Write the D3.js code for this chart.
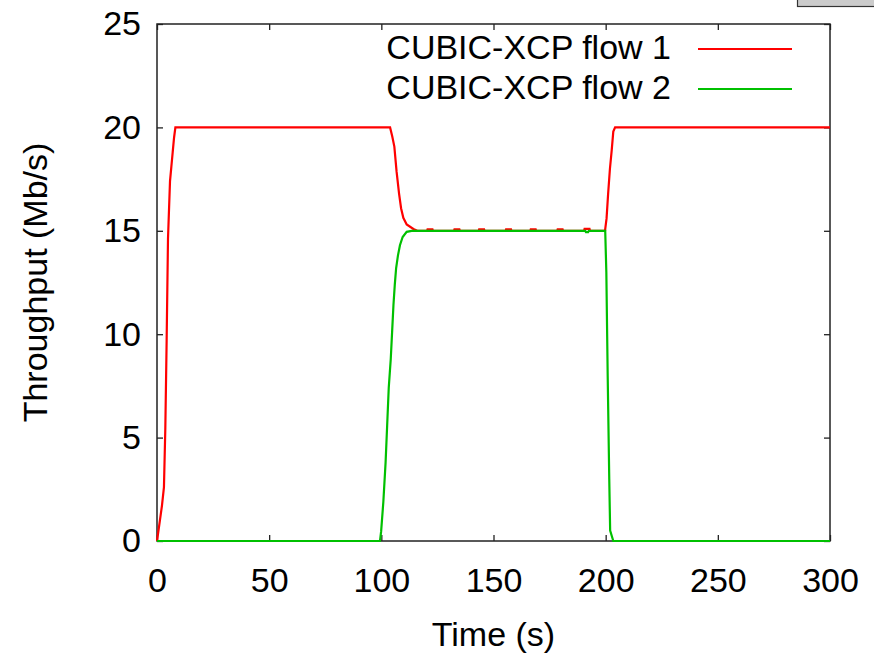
<!DOCTYPE html>
<html>
<head>
<meta charset="utf-8">
<script src="https://cdn.jsdelivr.net/npm/d3@7"></script>
<style>
  html, body { margin: 0; padding: 0; background: #fff; }
  svg { display: block; }
  text { font-family: "Liberation Sans", Arial, Helvetica, sans-serif; fill: #000; }
</style>
</head>
<body>
<svg id="chart" width="874" height="658"></svg>
<script>
// ---- data ----
const seriesNames = ["CUBIC-XCP flow 1", "CUBIC-XCP flow 2"];
const seriesColors = ["#ff0000", "#00c000"];

const flow1Time = [0, 1.3, 2.2, 3.1, 3.7, 4.3, 4.9, 5.8, 6.4, 7.0, 7.6, 8.2,
  103.9, 104.9, 105.8, 106.8, 107.9, 108.8, 109.8, 111.3, 114.3, 116,
  120.4, 120.6, 122.8, 123.0, 132.4, 132.6, 134.8, 135.0,
  143.4, 143.6, 145.8, 146.0, 155.4, 155.6, 157.8, 158.0,
  166.4, 166.6, 168.8, 169.0, 178.4, 178.6, 180.8, 181.0,
  190.4, 190.6, 192.8, 193.0,
  199.7, 200.4, 201.1, 201.9, 202.7, 203.4, 204.2, 300];
const flow1Value = [0, 1.0, 1.7, 2.6, 5.4, 9.7, 14.6, 17.4, 18.1, 18.8, 19.5, 20,
  20, 19.55, 19.07, 17.86, 16.8, 16.09, 15.63, 15.31, 15.09, 15.0,
  15.0, 15.07, 15.07, 15.0, 15.0, 15.07, 15.07, 15.0,
  15.0, 15.07, 15.07, 15.0, 15.0, 15.07, 15.07, 15.0,
  15.0, 15.07, 15.07, 15.0, 15.0, 15.07, 15.07, 15.0,
  15.0, 15.09, 15.09, 15.0,
  15.0, 15.6, 16.8, 18.0, 18.9, 19.8, 20, 20];

const flow2Time = [0, 99.4, 99.9, 100.9, 101.9, 102.6, 103.3, 104.2, 104.8, 105.4, 106.0,
  106.6, 107.4, 108.3, 109.5, 111.3, 113.5, 190.9, 191.2, 192.2, 192.5, 199.8,
  200.3, 200.9, 201.6, 202.0, 203.4, 300];
const flow2Value = [0, 0, 0.45, 1.9, 3.8, 5.6, 7.4, 8.8, 10.1, 11.4, 12.4,
  13.2, 13.8, 14.3, 14.7, 14.95, 15.0, 15.0, 14.94, 14.94, 15.0, 15.0,
  13.0, 8.0, 3.0, 0.5, 0, 0];

const xTicks = [0, 50, 100, 150, 200, 250, 300];
const yTicks = [0, 5, 10, 15, 20, 25];
const xLabel = "Time (s)";
const yLabel = "Throughput (Mb/s)";

// ---- layout ----
const svg = d3.select("#chart");
const mLeft = 157, mRight = 830, mTop = 24, mBottom = 541;
const x = d3.scaleLinear().domain([0, 300]).range([mLeft, mRight]);
const y = d3.scaleLinear().domain([0, 25]).range([mBottom, mTop]);

// stray grey widget in the top-right corner of the screenshot
svg.append("rect").attr("x", 797.5).attr("y", -2).attr("width", 80).attr("height", 8.5)
  .attr("fill", "#cbcbcb").attr("stroke", "#333").attr("stroke-width", 1.2);

const fontSize = 34;
const tickLen = 6;

const axB = d3.axisBottom(x).tickValues(xTicks).tickSize(-tickLen).tickPadding(27).tickFormat(d3.format("d"));
const axT = d3.axisTop(x).tickValues(xTicks).tickSize(-tickLen).tickFormat("");
const axL = d3.axisLeft(y).tickValues(yTicks).tickSize(-tickLen).tickPadding(16).tickFormat(d3.format("d"));
const axR = d3.axisRight(y).tickValues(yTicks).tickSize(-tickLen).tickFormat("");

function styleAxis(g) {
  g.select(".domain").remove();
  g.selectAll(".tick line").attr("stroke", "#222").attr("stroke-width", 1.3);
  g.selectAll(".tick text").style("font-size", fontSize + "px")
    .style("font-family", '"Liberation Sans", Arial, sans-serif').attr("fill", "#000");
}
svg.append("g").attr("transform", `translate(0,${mBottom})`).call(axB).call(styleAxis);
svg.append("g").attr("transform", `translate(0,${mTop})`).call(axT).call(styleAxis);
svg.append("g").attr("transform", `translate(${mLeft},0)`).call(axL).call(styleAxis);
svg.append("g").attr("transform", `translate(${mRight},0)`).call(axR).call(styleAxis);

// frame
svg.append("rect").attr("x", mLeft).attr("y", mTop).attr("width", mRight - mLeft).attr("height", mBottom - mTop)
  .attr("fill", "none").attr("stroke", "#222").attr("stroke-width", 1.5);

// lines
const line = d3.line().x(d => x(d[0])).y(d => y(d[1]));
const flows = [
  d3.zip(flow1Time, flow1Value),
  d3.zip(flow2Time, flow2Value)
];
flows.forEach((data, i) => {
  svg.append("path").datum(data).attr("d", line)
    .attr("fill", "none").attr("stroke", seriesColors[i]).attr("stroke-width", 2.2)
    .attr("stroke-linejoin", "miter");
});

// legend
const legX1 = 698, legX2 = 792, legTextX = 671;
const legY = [49, 89];
seriesNames.forEach((name, i) => {
  svg.append("text").attr("x", legTextX).attr("y", legY[i] + 9.5)
    .attr("text-anchor", "end").style("font-size", fontSize + "px").text(name);
  svg.append("line").attr("x1", legX1).attr("x2", legX2).attr("y1", legY[i]).attr("y2", legY[i])
    .attr("stroke", seriesColors[i]).attr("stroke-width", 2.2);
});

// axis titles
svg.append("text").attr("x", (mLeft + mRight) / 2).attr("y", 646).attr("text-anchor", "middle")
  .style("font-size", fontSize + "px").text(xLabel);
svg.append("text").attr("transform", `translate(47,${(mTop + mBottom) / 2}) rotate(-90)`)
  .attr("text-anchor", "middle").style("font-size", fontSize + "px").text(yLabel);
</script>
</body>
</html>
